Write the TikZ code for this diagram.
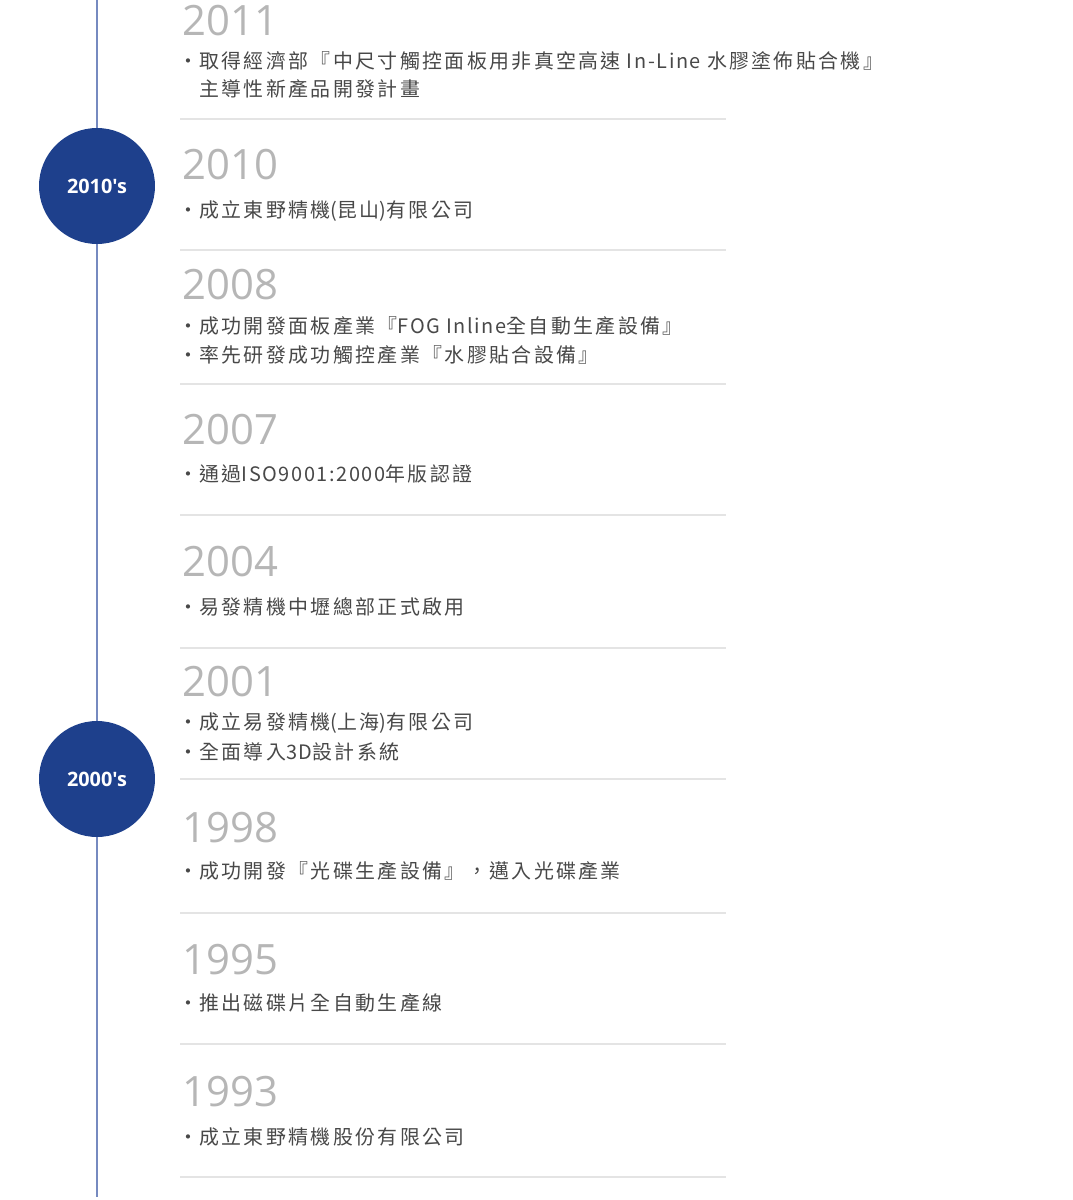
\documentclass[tikz,border=0pt]{standalone}
\usepackage{fontspec}
\newfontfamily\cjkfont{Noto Sans CJK TC}[LetterSpace=12]
\newfontfamily\latinfont{Noto Sans CJK TC}[LetterSpace=8]
\newfontfamily\yearfont{Open Sans}
\newfontfamily\decadefont{Open Sans}[Ligatures=TeXOff]
\newcommand{\lat}[1]{{\latinfont #1}}
\definecolor{decadeblue}{RGB}{30,64,140}
\definecolor{axisblue}{RGB}{118,138,192}
\definecolor{yeargray}{RGB}{182,182,182}
\definecolor{entrygray}{RGB}{72,72,72}
\definecolor{sepgray}{RGB}{228,228,228}
\tikzset{yearlabel/.style = {anchor=base west, inner sep=0pt, text=yeargray,
                             font=\yearfont\fontsize{23.8pt}{24pt}\selectfont}}
\tikzset{entry/.style = {anchor=base west, inner sep=0pt, text=entrygray,
                         font=\cjkfont\fontsize{11.34pt}{12pt}\selectfont}}
\tikzset{dotmark/.style = {entry, anchor=base}}
\tikzset{decadedot/.style = {circle, fill=decadeblue, minimum size=2.32cm, inner sep=0pt,
                             text=white, font=\decadefont\bfseries\fontsize{11.3pt}{12pt}\selectfont}}
\tikzset{sepline/.style = {draw=sepgray, line width=0.8pt}}
\begin{document}
\begin{tikzpicture}[x=0.02cm, y=-0.02cm]
		\useasboundingbox (0,0) rectangle (1072,1200);
		% time axis
		\coordinate (top) at (97,0);
		\coordinate (bottom) at (97,1197);
		\draw [draw=axisblue, line width=1.1pt] (top) to (bottom);
		\node [decadedot] (d1) at (97,186) {2010's};
		\node [decadedot] (d2) at (97,779) {2000's};
		% separators
		\foreach \y [count=\i] in {119,250,384,515,648,779,913,1044,1177} {
			\coordinate (s\i a) at (180,\y);
			\coordinate (s\i b) at (726,\y);
			\draw [sepline] (s\i a) to (s\i b);
		}
		% years
		\node [yearlabel] (y1) at (182,35) {2011};
		\node [yearlabel] (y2) at (182,179) {2010};
		\node [yearlabel] (y3) at (182,299) {2008};
		\node [yearlabel] (y4) at (182,444) {2007};
		\node [yearlabel] (y5) at (182,576) {2004};
		\node [yearlabel] (y6) at (182,696) {2001};
		\node [yearlabel] (y7) at (182,842) {1998};
		\node [yearlabel] (y8) at (182,974) {1995};
		\node [yearlabel] (y9) at (182,1106) {1993};
		% bullets
		\foreach \y [count=\i] in {68.6,217.6,333.6,362.6,481.6,614.6,729.6,759.6,878.6,1010.6,1144.6} {
			\node [dotmark] (b\i) at (188,\y) {•};
		}
		% entries
		\node [entry] (e1) at (199,68.6) {取得經濟部『中尺寸觸控面板用非真空高速\lat{ In-Line }水膠塗佈貼合機』};
		\node [entry] (e2) at (199,96.6) {主導性新產品開發計畫};
		\node [entry] (e3) at (199,217.6) {成立東野精機\lat{(}昆山\lat{)}有限公司};
		\node [entry] (e4) at (199,333.6) {成功開發面板產業『\lat{FOG Inline}全自動生產設備』};
		\node [entry] (e5) at (199,362.6) {率先研發成功觸控產業『水膠貼合設備』};
		\node [entry] (e6) at (199,481.6) {通過\lat{ISO9001:2000}年版認證};
		\node [entry] (e7) at (199,614.6) {易發精機中壢總部正式啟用};
		\node [entry] (e8) at (199,729.6) {成立易發精機\lat{(}上海\lat{)}有限公司};
		\node [entry] (e9) at (199,759.6) {全面導入\lat{3D}設計系統};
		\node [entry] (e10) at (199,878.6) {成功開發『光碟生產設備』，邁入光碟產業};
		\node [entry] (e11) at (199,1010.6) {推出磁碟片全自動生產線};
		\node [entry] (e12) at (199,1144.6) {成立東野精機股份有限公司};
	\end{tikzpicture}
\end{document}
